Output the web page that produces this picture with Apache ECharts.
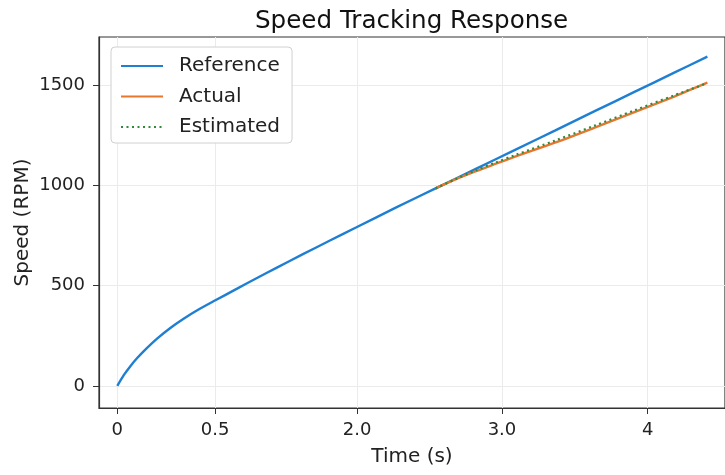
<!DOCTYPE html>
<html>
<head>
<meta charset="utf-8">
<script src="https://cdn.jsdelivr.net/npm/echarts@6/dist/echarts.min.js"></script>
<style>
  html, body { margin: 0; padding: 0; background: #fff; }
  #chart { width: 725px; height: 475px; }
</style>
</head>
<body>
<div id="chart"></div>
<script>
// reference speed, sampled along the time axis
var timeRef  = [0, 0.05, 0.1, 0.15, 0.2, 0.3, 0.4, 0.5, 0.6, 0.74, 0.9, 1.05, 1.2, 1.4, 1.6, 1.8, 2.1, 2.4, 2.7, 3.0, 3.3, 3.6, 3.9, 4.2, 4.45];
var speedRef = [0, 55, 100, 139, 174, 236, 289, 335, 376, 427, 484, 537, 589, 657, 724, 790, 889, 985, 1081, 1177, 1273, 1370, 1466, 1562, 1642];

// actual / estimated only visible where they leave the reference
var timeTrk  = [2.4, 2.55, 2.7, 2.85, 3.0, 3.3, 3.6, 3.9, 4.2, 4.45];
var speedAct = [985, 1030, 1070, 1107, 1143, 1213, 1288, 1365, 1443, 1512];
var speedEst = [985, 1031, 1074, 1113, 1151, 1223, 1298, 1374, 1449, 1510];

// x tick marks as they sit on the picture, with their printed text
var xTickAt   = [0, 0.737, 1.808, 2.901, 4.0];
var xTickText = ['0', '0.5', '2.0', '3.0', '4'];
var yTicks    = [0, 500, 1000, 1500];

function pairs(xs, ys) {
    var out = [];
    for (var i = 0; i < xs.length; i++) out.push([xs[i], ys[i]]);
    return out;
}

var font = 'DejaVu Sans';
var chart = echarts.init(document.getElementById('chart'));
chart.setOption({
    animation: false,
    textStyle: { fontFamily: font },
    title: {
        text: 'Speed Tracking Response',
        left: 255, top: 9, padding: 0,
        textStyle: { fontFamily: font, fontSize: 24.6, fontWeight: 'normal', color: '#111' }
    },
    legend: {
        orient: 'vertical',
        left: 111, top: 47,
        padding: [9, 12, 6, 9],
        itemGap: 10.5,
        itemWidth: 42, itemHeight: 19,
        backgroundColor: '#fff',
        borderColor: '#d0d0d0', borderWidth: 1, borderRadius: 4,
        itemStyle: { color: 'transparent', borderWidth: 0 },
        textStyle: { fontFamily: font, fontSize: 20, color: '#222', padding: [0, 0, 0, 11] },
        data: ['Reference', 'Actual', 'Estimated']
    },
    grid: {
        left: 99, right: 0, top: 37, bottom: 67,
        outerBoundsMode: 'none', containLabel: false,
        show: true, borderColor: '#333', borderWidth: 1.2, backgroundColor: 'transparent'
    },
    xAxis: {
        type: 'value',
        min: -0.138, max: 4.583,
        name: 'Time (s)', nameLocation: 'middle', nameGap: 39, nameMoveOverlap: false,
        nameTextStyle: { fontFamily: font, fontSize: 20, color: '#222' },
        axisLine: { onZero: false, lineStyle: { color: '#333', width: 1.2 } },
        axisTick: { customValues: xTickAt, length: 6, lineStyle: { color: '#333' } },
        axisLabel: {
            customValues: xTickAt, margin: 13,
            fontFamily: font, fontSize: 18, color: '#222',
            formatter: function (v) {
                for (var i = 0; i < xTickAt.length; i++) {
                    if (Math.abs(xTickAt[i] - v) < 1e-6) return xTickText[i];
                }
                return '';
            }
        },
        splitLine: { show: true, lineStyle: { color: '#ebebeb', width: 1 } }
    },
    yAxis: {
        type: 'value',
        min: -110, max: 1740,
        name: 'Speed (RPM)', nameLocation: 'middle', nameGap: 66, nameMoveOverlap: false,
        nameTextStyle: { fontFamily: font, fontSize: 20, color: '#222' },
        axisLine: { show: true, onZero: false, lineStyle: { color: '#333', width: 1.2 } },
        axisTick: { show: true, customValues: yTicks, length: 6, lineStyle: { color: '#333' } },
        axisLabel: {
            customValues: yTicks, margin: 14, fontFamily: font, fontSize: 18, color: '#222',
            formatter: function (v) { return String(v); }
        },
        splitLine: { show: true, lineStyle: { color: '#ebebeb', width: 1 } }
    },
    series: [
        {
            name: 'Reference', type: 'line', symbol: 'none', smooth: 0.3,
            itemStyle: { color: '#1f7fd2' },
            lineStyle: { color: '#1f7fd2', width: 2.4 },
            data: pairs(timeRef, speedRef)
        },
        {
            name: 'Actual', type: 'line', symbol: 'none', smooth: 0.3,
            itemStyle: { color: '#e8762d' },
            lineStyle: { color: '#e8762d', width: 2.4 },
            data: pairs(timeTrk, speedAct)
        },
        {
            name: 'Estimated', type: 'line', symbol: 'none', smooth: 0.3,
            itemStyle: { color: '#2f8a3a' },
            lineStyle: { color: '#2f8a3a', width: 2.2, type: [2, 3.5] },
            data: pairs(timeTrk, speedEst)
        }
    ]
});
</script>
</body>
</html>
